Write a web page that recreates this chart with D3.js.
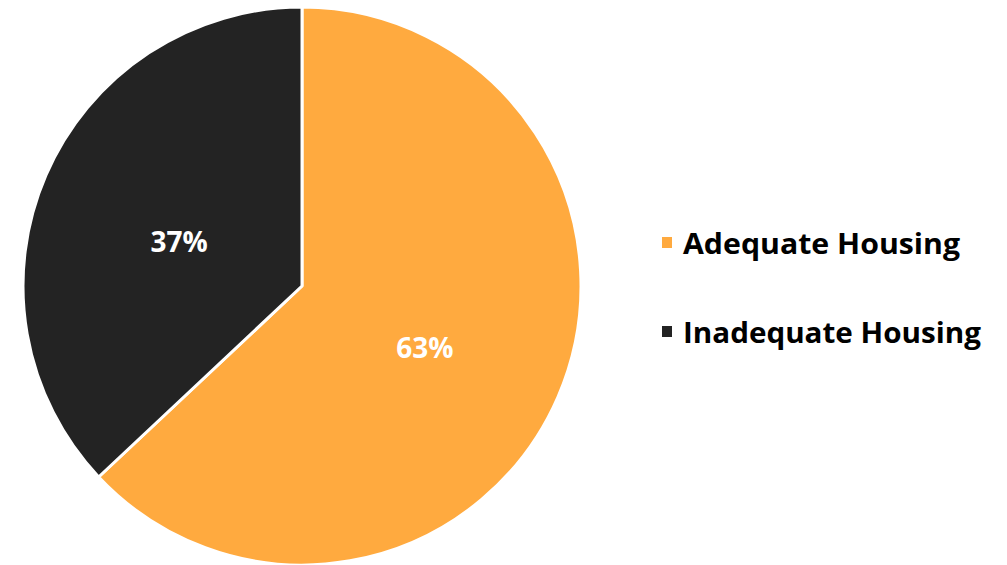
<!DOCTYPE html>
<html><head><meta charset="utf-8">
<script src="https://cdn.jsdelivr.net/npm/d3@7"></script>
<style>html,body{margin:0;padding:0;background:#fff;}svg{display:block;}</style>
</head><body>
<svg id="chart" width="1007" height="565"></svg>
<script>
const categories = ["Adequate Housing", "Inadequate Housing"];
const values = [63, 37];
const colors = ["#FFAA3F", "#232323"];
const labels = ["63%", "37%"];

const svg = d3.select("#chart");
const cx = 302, cy = 286, r = 279;
const g = svg.append("g").attr("transform", `translate(${cx},${cy})`);
const data = categories.map((c, i) => ({cat: c, value: values[i], color: colors[i], label: labels[i]}));
const pie = d3.pie().value(d => d.value).sort(null);
const arc = d3.arc().innerRadius(0).outerRadius(r);
const arcs = pie(data);
g.selectAll("path").data(arcs).join("path")
  .attr("d", arc).attr("fill", d => d.data.color)
  .attr("stroke", "#fff").attr("stroke-width", 3).attr("stroke-linejoin", "round");
const labelArc = d3.arc().innerRadius(r * 0.48).outerRadius(r * 0.48);
g.selectAll("text").data(arcs).join("text")
  .attr("transform", d => { const [x, y] = labelArc.centroid(d); return `translate(${x},${y + 8})`; })
  .attr("text-anchor", "middle").attr("dominant-baseline", "central")
  .attr("fill", "#fff").attr("font-family", "'Open Sans', Lato, sans-serif")
  .attr("font-weight", "bold").attr("font-size", 28)
  .text(d => d.data.label);

const legend = svg.append("g");
const ly = d3.scalePoint().domain(categories).range([242, 331]);
const li = legend.selectAll("g").data(data).join("g")
  .attr("transform", d => `translate(662,${ly(d.cat)})`);
li.append("rect").attr("x", 0).attr("y", -5).attr("width", 10).attr("height", 11).attr("fill", d => d.color);
li.append("text").attr("x", 21).attr("y", 0).attr("dominant-baseline", "central")
  .attr("font-family", "'Open Sans', Lato, sans-serif").attr("font-weight", "bold")
  .attr("font-size", 29).attr("fill", "#000")
  .attr("textLength", (d, i) => i === 0 ? 277 : 298).attr("lengthAdjust", "spacingAndGlyphs")
  .text(d => d.cat);
</script>
</body></html>
